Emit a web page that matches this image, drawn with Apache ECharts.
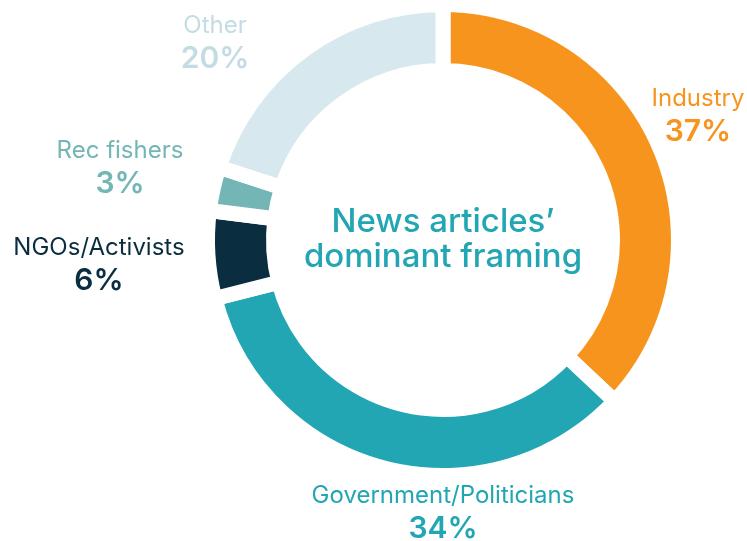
<!DOCTYPE html>
<html><head><meta charset="utf-8">
<script src="https://cdn.jsdelivr.net/npm/echarts@6/dist/echarts.min.js"></script>
<style>html,body{margin:0;padding:0;background:#fff}#c{width:747px;height:541px}</style>
</head><body><div id="c"></div>
<script>
const categories = ['Industry', 'Government/Politicians', 'NGOs/Activists', 'Rec fishers', 'Other'];
const values = [37, 34, 6, 3, 20];
const colors = ['#F7941D', '#22A6B3', '#0A2D3F', '#74B6B6', '#D7E9EF'];
const labelColors = ['#F7941D', '#22A6B3', '#0A2D3F', '#74B6B6', '#C3DCE3'];
const centerTitle = 'News articles’\ndominant framing';
// label block centres (layout only)
const labelPos = {
  'Industry': [698, 115],
  'Government/Politicians': [443, 512],
  'NGOs/Activists': [99, 264],
  'Rec fishers': [120, 167],
  'Other': [215, 42]
};
const FONT = 'Inter, "Open Sans", sans-serif';
const chart = echarts.init(document.getElementById('c'), null, {renderer: 'canvas'});
chart.setOption({
  animation: false,
  graphic: [{
    type: 'text', x: 443, y: 240,
    style: {
      text: centerTitle, fill: '#22A6B3', font: '500 33px ' + FONT,
      align: 'center', verticalAlign: 'middle', lineHeight: 35
    }
  }],
  series: [{
    type: 'pie',
    center: [443, 240],
    radius: [169.5, 235.5],
    startAngle: 90,
    clockwise: true,
    silent: true,
    avoidLabelOverlap: false,
    itemStyle: {borderColor: '#fff', borderWidth: 15},
    emphasis: {disabled: true},
    labelLine: {show: false},
    label: {
      show: true,
      position: 'outside',
      align: 'center',
      formatter: p => '{n|' + p.name + '}\n{p|' + p.value + '%}'
    },
    labelLayout: p => {
      const pos = labelPos[categories[p.dataIndex]];
      return {x: pos[0], y: pos[1], align: 'center', verticalAlign: 'middle'};
    },
    data: categories.map((c, i) => ({
      name: c, value: values[i],
      itemStyle: {color: colors[i]},
      label: {
        rich: {
          n: {fontFamily: FONT, fontSize: 24, fontWeight: 400, color: labelColors[i], lineHeight: 33, align: 'center'},
          p: {fontFamily: FONT, fontSize: 30, fontWeight: 600, color: labelColors[i], lineHeight: 33, align: 'center'}
        }
      }
    }))
  }]
});
</script></body></html>
